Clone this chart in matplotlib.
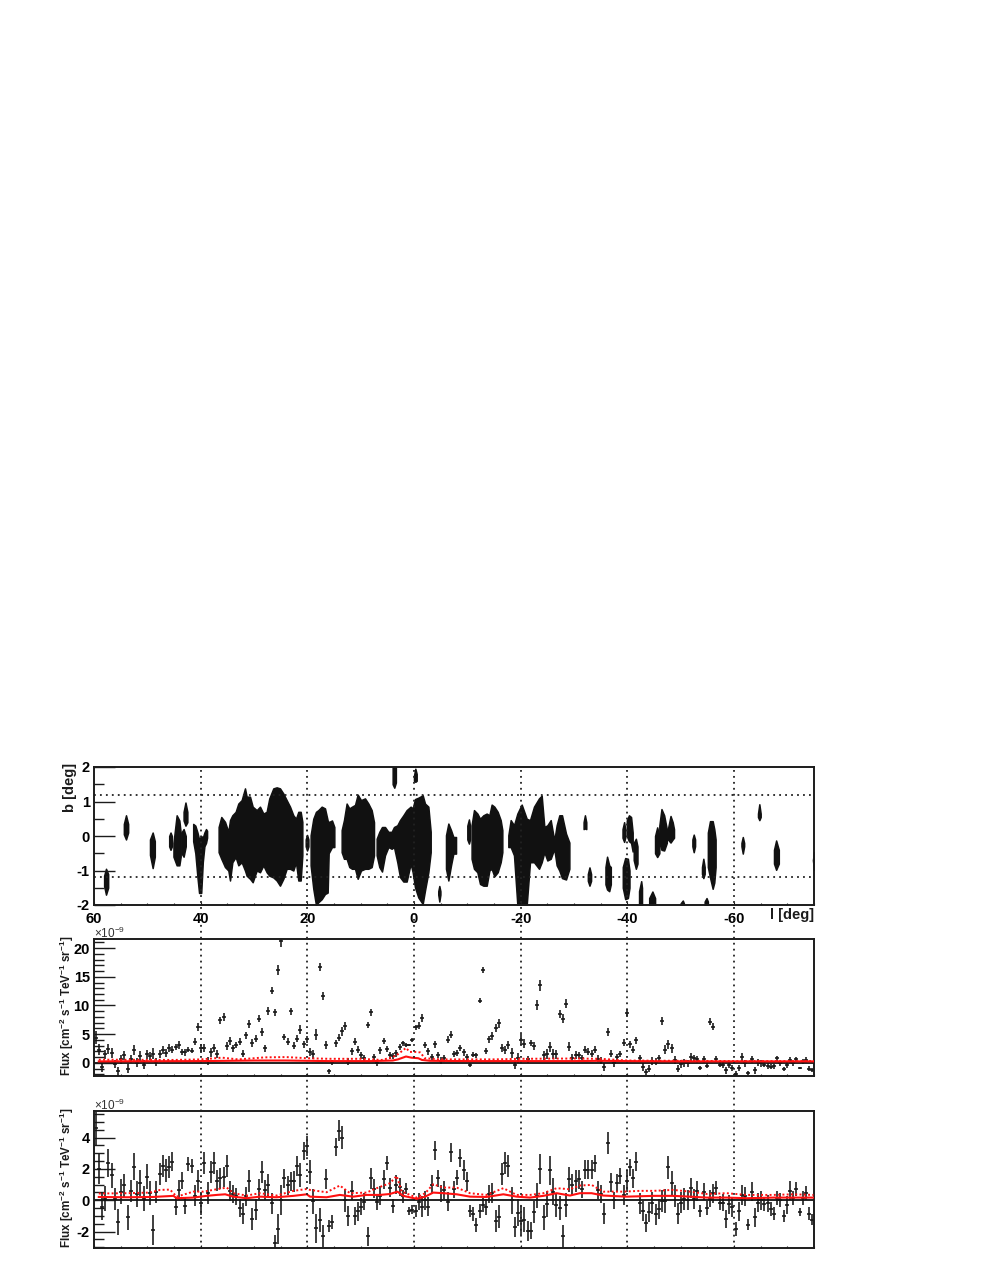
import numpy as np
import matplotlib
matplotlib.use("Agg")
import matplotlib.pyplot as plt
from matplotlib.lines import Line2D
from matplotlib.ticker import MultipleLocator
from matplotlib.transforms import blended_transform_factory

plt.rcParams['font.family'] = ['Liberation Sans', 'DejaVu Sans']
plt.rcParams['mathtext.default'] = 'regular'
plt.rcParams['axes.unicode_minus'] = False

# Sky-map regions: each is (longitude, lower b, upper b) nodes
regions = [
 ([58.1,57.75,57.35],[-1.45,-1.7,-1.5],[-1.15,-.95,-1.1]),
 ([54.4,54.0,53.6],[.05,-.1,.1],[.35,.6,.35]),
 ([49.5,49.0,48.6],[-.55,-.93,-.6],[-.1,.1,-.15]),
 ([45.9,45.65,45.4],[-.3,-.4,-.3],[0,.1,0]),
 ([45.1,44.5,44,43.75],[-.6,-.85,-.85,-.6],[-.2,.6,.45,.1]),
 ([43.6,43.2,42.8],[-.5,-.6,-.3],[.1,.2,0]),
 ([43.2,42.85,42.5],[.45,.3,.4],[.7,.97,.7]),
 ([41.4,41,40.6,40.3,39.9,39.6,39.3,39.0,38.8],[-.15,-.5,-1.2,-1.65,-1.65,-.75,-.3,-.2,-.05],[.35,.3,.1,-.1,0,-.05,.1,.2,.15]),
 ([36.63,36.13,35.44,34.81,34.5,34.06,33.44,32.94,32.31,31.69,31.38,30.75,30.25,29.5,28.88,28.25,27.63,27.13,26.38,25.75,25.13,24.5,23.88,23.25,22.63,22.13,21.69,21.25,20.94],
  [-.47,-.66,-.9,-1.0,-1.29,-.76,-.61,-.85,-.76,-1.0,-1.15,-1.24,-1.34,-1.0,-1.05,-.85,-1.05,-1.15,-1.2,-1.29,-1.44,-1.24,-.95,-.95,-1.0,-.76,-1.29,-1.29,-.56],
  [.26,.55,.41,.12,.46,.6,.7,.94,1.04,1.38,1.14,1.14,.85,.75,.85,.65,.7,1.09,1.38,1.41,1.38,1.23,1.04,.85,.6,.5,.7,.7,.41]),
 ([20.3,20.05,19.8],[-.3,-.42,-.3],[-.1,.03,-.1]),
 ([19.38,18.88,18.38,17.94,17.31,16.69,16.19,16.0,15.38,14.94],[-.85,-1.53,-2,-1.92,-1.83,-1.68,-1.64,-.5,-.32,-.32],[.02,.5,.7,.75,.85,.8,.45,.4,.45,.26]),
 ([13.56,13.13,12.63,12.13,11.63,11.06,10.56,9.94,9.19,8.56,7.94,7.5],[-.47,-.66,-.66,-.9,-.95,-.95,-1.24,-1.0,-.95,-.95,-.9,-.56],[.17,.46,.94,.8,.85,.9,1.2,1.04,1.09,.94,.75,.4]),
 ([7.0,6.5,6.0,5.44,4.81,4.19,3.75,3.13,2.63,2.0,1.38,.63,.25,-.19,-.81,-1.63,-2.06,-2.69,-3.13],
  [-.56,-.9,-1.03,-.56,-.32,-.37,-.32,-.76,-1.19,-1.32,-1.32,-.8,-1.05,-1.49,-1.78,-1.97,-1.58,-1.05,-.47],
  [-.08,.12,.26,.26,.12,.12,.26,.31,.46,.6,.75,.85,.8,1.07,1.11,1.18,.94,.85,.12]),
 ([4.0,3.7,3.4],[1.5,1.4,1.55],[2,2,2]),
 ([0.0,-.25,-.5],[1.6,1.57,1.6],[1.75,1.95,1.8]),
 ([-4.55,-4.75,-4.95],[-1.7,-1.9,-1.7],[-1.6,-1.45,-1.6]),
 ([-6.0,-6.44,-6.94,-7.38,-7.88],[-.95,-1.29,-.85,-.51,-.51],[.02,.36,.17,-.03,-.03]),
 ([-10.0,-10.3,-10.5],[-.1,-.22,-.1],[.3,.48,.3]),
 ([-10.8,-11.25,-11.88,-12.38,-13.0,-13.63,-14.13,-14.56,-15.06,-15.69,-16.25,-16.56],[-.66,-.95,-1.05,-1.39,-1.44,-1.44,-1.0,-.95,-1.17,-1.05,-.76,-.47],[.31,.75,.65,.5,.6,.65,.6,.91,.85,.7,.46,.17]),
 ([-17.69,-18.13,-18.75,-19.38,-20.19,-21.13,-21.75,-22.5,-23.44,-23.94,-24.44,-25,-25.63,-26.3,-26.75,-27.25,-27.75,-28.5,-29.13],
  [-.32,-.32,-.56,-2,-2,-2,-.76,-.76,-.95,-.76,-.47,-.71,-.66,-.37,-.85,-1.0,-1.22,-1.26,-.95],
  [.02,.46,.31,.65,.91,.5,.46,.85,1.09,1.17,.26,.31,.46,-.13,.31,.6,.6,.07,-.19]),
 ([-31.8,-32.05,-32.3],[.2,.22,.2],[.4,.6,.4]),
 ([-32.6,-32.9,-33.2],[-1.3,-1.44,-1.3],[-1.1,-.91,-1.1]),
 ([-35.9,-36.2,-36.6,-36.9],[-1.4,-1.55,-1.6,-1.4],[-.9,-.6,-.85,-.9]),
 ([-39.15,-39.6,-40.1,-40.4],[-1.5,-1.83,-1.8,-1.5],[-.9,-.64,-.66,-1]),
 ([-39.1,-39.4,-39.6],[-.05,-.17,-.05],[.2,.4,.2]),
 ([-39.9,-40.3,-40.7,-41],[0,-.15,-.2,-.45],[.45,.6,.55,.1]),
 ([-41.2,-41.6,-41.9],[-.7,-.95,-.8],[-.2,-.08,-.3]),
 ([-42.2,-42.6,-42.75],[-2,-2,-2],[-1.6,-1.31,-1.5]),
 ([-44.1,-44.7,-45.2],[-2,-2,-2],[-1.8,-1.61,-1.8]),
 ([-45.2,-45.6,-46],[-.5,-.61,-.5],[0,.25,0]),
 ([-46.0,-46.4,-46.9,-47.4],[-.2,-.4,-.42,-.2],[.3,.78,.6,.2]),
 ([-47.6,-48.1,-48.5,-48.75],[-.1,-.19,-.1,-.05],[.2,.58,.4,.2]),
 ([-50,-50.4,-50.6],[-2,-2,-2],[-1.95,-1.87,-1.95]),
 ([-52.2,-52.45,-52.7],[-.3,-.47,-.3],[-.1,.04,-.1]),
 ([-54,-54.25,-54.5],[-1.1,-1.22,-1.1],[-.9,-.66,-.9]),
 ([-54.5,-54.85,-55.1],[-2,-2,-2],[-1.9,-1.8,-1.9]),
 ([-55.1,-55.5,-56,-56.3,-56.55],[-.9,-1.2,-1.53,-1.35,-.9],[.1,.43,.43,.2,-.1]),
 ([-61.4,-61.65,-61.9],[-.3,-.51,-.3],[-.2,-.03,-.2]),
 ([-64.5,-64.75,-65],[.55,.46,.55],[.65,.92,.65]),
 ([-67.5,-67.9,-68.4],[-.8,-.98,-.8],[-.4,-.13,-.4]),
 ([-74.8,-75],[-.7,-.98],[-.7,-.47]),
]

# Flux in middle panel (units of 1e-9)
flux_mid = [4.4,2.3,-.8,1.5,2.4,1.7,-.2,-1.5,.6,1.3,-1,.6,2.3,0,1.2,-.3,1.5,1.2,1.6,.2,1.6,2.3,1.7,2.5,2.3,2.8,3.1,1.9,1.8,2.3,2.1,3.7,6.2,2.5,2.6,.3,1.8,2.5,1.5,7.4,8.0,3.0,3.8,2.5,3.1,3.7,1.6,4.8,6.8,3.4,4.2,7.7,5.4,2.5,9.1,12.6,8.8,16.2,21.2,4.5,3.7,9.0,3.0,4.2,5.8,3.2,4.1,1.9,1.5,4.9,16.7,
 11.6,3.1,-1.5,.1,3.4,4.4,5.5,6.4,.2,2,3.7,2.3,1.3,.8,6.6,8.8,1,0,2.2,3.8,2.4,1.3,1.2,1.7,2.7,3.4,3.1,3.1,4.0,6.2,6.5,7.8,3.1,2,1,3.2,1.4,.4,.8,4,4.9,1.5,1.7,2.6,1.8,1,-.4,1.4,1.3,10.8,16.2,2,4.1,4.7,6,6.9,2.6,2.2,3.1,1.7,-.4,.8,4,3.3,.6,3.5,3,10.1,13.5,1.3,1.5,2.8,1.6,1.5,8.5,7.7,10.3,2.8,
 .8,1.3,1.3,.8,2.3,1.9,1.6,2.3,.7,.4,-.7,5.4,1.6,-.1,1,1.5,3.5,8.7,3.2,2.3,3.9,.8,-.7,-1.6,-1,.3,.2,.8,7.3,2.3,3.2,2.5,.5,-1,-.2,-.1,-.1,1,.8,.6,-.9,.6,-.5,7.2,6.3,.7,-.3,-.3,-1.3,-.3,-.9,-1.9,-.9,1,-.1,-1.7,.6,-1.3,.1,-.1,-.3,-.5,-.7,-.6,.8,-.1,-1.1,-.4,.5,-.1,.6,-.9,.2,.5,-1,-1.3]

# Flux in bottom panel (units of 1e-9)
flux_low = [4.6,2.0,-.4,.1,2.4,1.6,.1,-1.4,.55,.95,-1.1,.6,2.15,.4,1.1,.1,1.5,.45,-1.9,.55,1.7,2.2,1.9,2.1,2.45,-.4,.65,1.25,-.35,2.3,2.2,.3,1.25,-.2,2.35,.45,1.8,2.4,1.25,1.4,1.5,2.2,.6,.4,.25,-.5,-.85,.25,1.25,-1.2,-.6,.7,1.8,.65,1,-.2,-2.75,-1.85,0,1.4,.95,1.2,1.2,2.2,1.6,3.15,3.45,1.8,
 -.05,-1.8,-1.25,-2.3,1.35,-1.65,-1.4,3.4,4.45,4,0,-1,.6,-1,-.7,-.4,-.1,-2.3,1.4,.75,-.1,.3,1.35,2.35,.8,-.35,1,.85,.25,.75,-.7,-.6,-.7,-.1,-.4,0,-.4,1,3.2,1.4,.45,.65,-.1,3.05,.7,1.45,2.7,1.95,1.2,-.7,-.9,-1.6,-.7,-.3,-.45,.4,.45,-1.3,-1.05,1.7,2.35,2.2,0,-1.7,-.8,-1.3,-1.25,-1.95,-1.95,-.75,.3,2,-1.1,-.25,1.9,.55,-.3,-.5,-2.3,-.3,1.35,
 1,1.25,1.35,.7,1.95,1.95,1.95,2.35,.65,.4,-.85,3.65,1.15,0,1.1,1.55,.35,1.2,2.1,1.4,2.45,-.2,-.7,-1.45,-.75,-.15,-.9,-.55,-.05,-.05,2.1,1.1,.25,-.85,-.15,.1,0,.8,.1,.6,-.7,.55,-.5,.1,.45,.8,-.15,-.15,-1.2,-.25,-.45,-1.85,-.7,.35,.25,-1.55,.55,-1.1,-.15,0,-.25,-.2,-.55,-.85,.15,0,-1,-.3,.6,.15,.7,-.75,.15,.45,-.85,-1.25]

flux_err = [1.1,.95,.85,.8,.9,.8,.7,.85,.8,.75,.8,.7,.85,.8,.8,.8,.8,.75,.95,.7,.7,.7,.75,.7,.6,.55,.65,.55,.55,.45,.45,.65,.7,.75,.7,.7,.7,.7,.65,.65,.65,.7,.65,.6,.55,.6,.65,.6,.7,.7,.65,.65,.7,.65,.7,.65,.55,.95,.95,.6,.6,.6,.65,.65,.75,.55,.65,.75,
 .8,.95,.75,.7,.65,.4,.45,.6,.65,.75,.75,.65,.6,.6,.6,.55,.55,.6,.65,.6,.5,.6,.6,.45,.6,.45,.6,.55,.4,.35,.25,.3,.4,.55,.65,.6,.6,.6,.6,.55,.55,.6,.6,.6,.55,.5,.55,.65,.6,.4,.45,.45,.45,.45,.5,.6,.65,.7,.75,.7,.7,.7,.85,.65,.85,.95,.8,.65,.55,.7,.8,.95,.8,.85,.9,.85,.75,.75,.75,.75,.8,
 .7,.7,.6,.55,.6,.6,.6,.55,.6,.6,.65,.7,.6,.55,.6,.5,.65,.7,.55,.6,.6,.65,.65,.6,.65,.7,.65,.65,.7,.75,.75,.75,.7,.65,.65,.7,.65,.65,.65,.65,.4,.55,.45,.55,.6,.45,.45,.55,.6,.6,.6,.45,.6,.65,.6,.35,.6,.6,.6,.6,.45,.55,.45,.4,.45,.45,.4,.55,.6,.45,.45,.25,.45,.45,.4,.35]

# Red sensitivity curves, bottom panel
low_solid_l = [59.1,53.9,48.9,45.1,44.5,41.4,38.9,37,35.4,33.9,31.4,28.9,25.8,22.6,20.1,19.5,16.4,13.9,11.4,8.9,6.4,4.5,3.1,2,-.5,-2.1,-3.6,-5.5,-8,-10.5,-13.6,-16.75,-19.25,-21.75,-24.25,-26.75,-29.25,-31.1,-33.3,-35.5,-39.9,-44.9,-48.6,-51.75,-54.9,-58.6,-62.4,-67.4,-71.1,-74.9]
low_solid_v = [.21,.19,.21,.28,.13,.17,.28,.34,.38,.23,.13,.23,.19,.28,.38,.23,.19,.34,.23,.34,.34,.4,.55,.28,.09,.23,.49,.45,.38,.23,.21,.38,.23,.17,.28,.45,.3,.45,.45,.3,.23,.28,.28,.23,.17,.17,.13,.17,.17,.17]
low_dot_l = [59.1,53.9,49.5,47.6,45.75,44.5,43,41.4,39.5,37,35.1,33.9,31.4,28.9,25.8,22.6,20.1,19.5,16.4,13.9,12,8.9,7,4.5,3.25,2.3,-.5,-2.1,-3.6,-5.5,-8,-10.5,-13.6,-16.75,-19.25,-21.75,-24.25,-26.75,-29.25,-31.1,-33.3,-35.5,-39.25,-42.4,-44.9,-48.6,-51.75,-54.9,-58.6,-62.4,-67.4,-71.1,-74.9]
low_dot_v = [.43,.45,.49,.66,.68,.23,.38,.55,.55,.7,.81,.45,.3,.45,.3,.6,.72,.66,.51,.94,.45,.49,.77,1.09,1.55,.55,.17,.45,1.02,.81,.81,.45,.34,.77,.34,.34,.45,.77,.7,.94,.98,.55,.55,.6,.6,.66,.55,.4,.45,.34,.34,.38,.34]

# Red sensitivity curves, middle panel
mid_solid_l = [59.1,40,30,24,16,8,4,3,1.5,.5,-.8,-1.5,-3,-10,-25,-30,-35,-40,-50,-75]
mid_solid_v = [.25,.3,.4,.4,.3,.3,.4,.6,1.1,.9,.8,.5,.35,.3,.3,.3,.35,.3,.25,.25]
mid_dot_l = [59.1,45,40,36,33,30,28,24,20,16,10,6,4,3,1.5,.8,-.5,-1.2,-2,-5,-15,-20,-30,-35,-40,-50,-60,-75]
mid_dot_v = [.55,.5,.6,.9,.6,.8,.95,1.0,.8,.7,.7,.5,1,1.5,2.6,1.9,1.9,1.8,.8,.6,.6,.7,.75,.7,.4,.35,.3,.3]

grid_l = [40, 20, 0, -20, -40, -60]
lon_ticks = [60, 40, 20, 0, -20, -40, -60]
lon_labels = ['60', '40', '20', '0', '-20', '-40', '-60']
lat_lines = [1.2, -1.2]

W, H = 981, 1269
fig = plt.figure(figsize=(W/100, H/100), dpi=100)

def mkax(y0, y1):
    return fig.add_axes([94/W, 1-y1/H, 720/W, (y1-y0)/H])

ax1 = mkax(767, 905)
ax2 = mkax(939, 1076)
ax3 = mkax(1111, 1248)
ink = '#1c1c1c'
FS = 10.5
dots = (0, (1.0, 2.3))

for ax in (ax1, ax2, ax3):
    ax.set_xlim(60, -75)
    for s in ax.spines.values():
        s.set_linewidth(1.4)
        s.set_color(ink)
    ax.xaxis.set_major_locator(MultipleLocator(20))
    ax.xaxis.set_minor_locator(MultipleLocator(5))
    ax.tick_params(axis='x', which='major', direction='in', length=2.5, width=0.8, top=False, labelbottom=False, color=ink)
    ax.tick_params(axis='x', which='minor', direction='in', length=1.2, width=0.8, top=False, color=ink)
    ax.tick_params(axis='y', which='major', direction='in', length=15, width=1.0, pad=3, labelsize=FS, color=ink)
    ax.tick_params(axis='y', which='minor', direction='in', length=7.5, width=1.0, color=ink)

# Top panel
for l, lo, hi in regions:
    ax1.fill_between(l, lo, hi, facecolor='#111111', edgecolor='#111111', lw=1.1, joinstyle='round')
ax1.set_ylim(-2, 2)
ax1.yaxis.set_major_locator(MultipleLocator(1))
ax1.yaxis.set_minor_locator(MultipleLocator(.5))
for b in lat_lines:
    ax1.axhline(b, color='#222222', lw=1.3, ls=dots)
ax1.set_xticks(lon_ticks)
ax1.set_xticklabels(lon_labels)
ax1.tick_params(axis='x', which='major', labelbottom=True, labelsize=FS, pad=5)

l_bins = 60 - 0.6*(np.arange(len(flux_mid)) + 0.5)

for ax, flux, sl, sv, dl, dv in ((ax2, flux_mid, mid_solid_l, mid_solid_v, mid_dot_l, mid_dot_v),
                                 (ax3, flux_low, low_solid_l, low_solid_v, low_dot_l, low_dot_v)):
    ax.axhline(0, color='#111111', lw=1.3, zorder=1)
    ax.errorbar(l_bins, flux, yerr=flux_err, xerr=0.36, fmt='none', ecolor='#151515', elinewidth=1.15, capsize=0, zorder=2)
    ax.plot(sl, sv, color='#ff1010', lw=1.5, zorder=3)
    ax.plot(dl, dv, color='#ff1010', lw=1.4, ls=(0, (1.0, 1.2)), zorder=3)

ax2.set_ylim(-2.3, 21.6)
ax2.yaxis.set_major_locator(MultipleLocator(5))
ax2.yaxis.set_minor_locator(MultipleLocator(1))
ax3.set_ylim(-3.05, 5.7)
ax3.yaxis.set_major_locator(MultipleLocator(2))
ax3.yaxis.set_minor_locator(MultipleLocator(.5))

for ax in (ax1, ax2, ax3):
    fig.canvas.draw()
    for lab in ax.get_yticklabels() + ax.get_xticklabels():
        lab.set_fontweight('bold')

# Vertical grid lines run across all panels
tr = blended_transform_factory(ax1.transData, fig.transFigure)
for l in grid_l:
    fig.add_artist(Line2D([l, l], [1-770/H, 1-1248/H], transform=tr, color='#222222', lw=1.3, ls=dots, zorder=5))

flux_label = r'Flux [cm$^{-2}$ s$^{-1}$ TeV$^{-1}$ sr$^{-1}$]'
fig.text(70/W, 1-787/H, 'b [deg]', rotation=90, ha='center', va='center', fontsize=FS, fontweight='bold', color=ink)
fig.text(67/W, 1-1006/H, flux_label, rotation=90, ha='center', va='center', fontsize=8.4, fontweight='bold', color=ink)
fig.text(67/W, 1-1178/H, flux_label, rotation=90, ha='center', va='center', fontsize=8.4, fontweight='bold', color=ink)
fig.text(814/W, 1-915/H, 'l [deg]', ha='right', va='center', fontsize=FS, fontweight='bold', color=ink)
for y in (933, 1105):
    fig.text(94/W, 1-y/H, r'$\times$10$^{-9}$', ha='left', va='center', fontsize=8.5, color='#333333')

fig.savefig('out.png', dpi=100, facecolor='white')
